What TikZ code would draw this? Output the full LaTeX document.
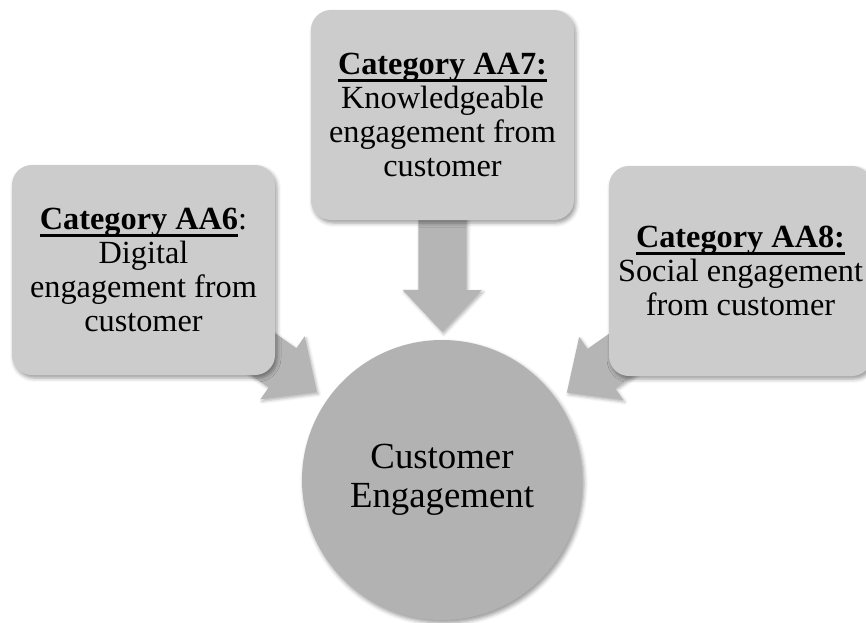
\documentclass[tikz,border=0pt]{standalone}
\usepackage{fontspec}
\setmainfont{Liberation Serif}
\usetikzlibrary{calc,shadows.blur,backgrounds}

\definecolor{boxgray}{RGB}{204,204,204}
\definecolor{arrowgray}{RGB}{181,181,181}
\definecolor{hubgray}{RGB}{178,178,178}

% bold heading with a heavy underline
\newcommand\catlabel[1]{\sbox0{\bfseries #1}\rlap{\rule[-7.5pt]{\wd0}{2.8pt}}\usebox0}

% block arrow from one node towards another
% #1 source, #2 target, #3 head base distance, #4 tip distance,
% #5 head half width, #6 name prefix
\newcommand\flowarrow[6]{%
  \coordinate (#6b) at ($(#1.center)!#3!(#2.center)$);
  \coordinate (#6t) at ($(#1.center)!#4!(#2.center)$);
  \fill[blockarrow]
    ($(#1.center)!24pt!90:(#2.center)$) --
    ($(#6b)!24pt!90:(#6t)$) --
    ($(#6b)!#5!90:(#6t)$) --
    (#6t) --
    ($(#6b)!#5!-90:(#6t)$) --
    ($(#6b)!24pt!-90:(#6t)$) --
    ($(#1.center)!24pt!-90:(#2.center)$) -- cycle;
}

\tikzset{
  softshadow/.style={blur shadow={shadow xshift=2pt, shadow yshift=-3pt,
      shadow blur radius=4pt, shadow opacity=40}},
  catbox/.style={rounded corners=20pt, fill=boxgray, minimum width=263pt,
      minimum height=210pt, align=center, inner sep=0pt,
      font=\fontsize{32.3}{34}\selectfont, softshadow},
  hub/.style={circle, fill=hubgray, minimum size=280pt, inner sep=0pt,
      align=center, font=\fontsize{36.8}{39}\selectfont, softshadow},
  blockarrow/.style={fill=arrowgray, blur shadow={shadow xshift=1.5pt,
      shadow yshift=-2pt, shadow blur radius=3pt, shadow opacity=30}}
}

\begin{document}
\begin{tikzpicture}[x=1pt,y=-1pt]
\useasboundingbox (0,0) rectangle (866,622);

\node[catbox] (aa6) at (143.5,270)
  {\catlabel{Category AA6}:\\Digital\\engagement from\\customer};
\node[catbox] (aa7) at (442.5,115)
  {\catlabel{Category AA7:}\\Knowledgeable\\engagement from\\customer};
\node[catbox] (aa8) at (740.5,271)
  {\catlabel{Category AA8:}\\Social engagement\\from customer};

\node[hub] (hub) at (442,480) {Customer\\Engagement};

\begin{scope}[on background layer]
  \flowarrow{aa6}{hub}{170pt}{212pt}{38.5pt}{la}
  \flowarrow{aa7}{hub}{175pt}{217pt}{39.5pt}{ta}
  \flowarrow{aa8}{hub}{170pt}{212pt}{38.5pt}{ra}
\end{scope}
\end{tikzpicture}
\end{document}
